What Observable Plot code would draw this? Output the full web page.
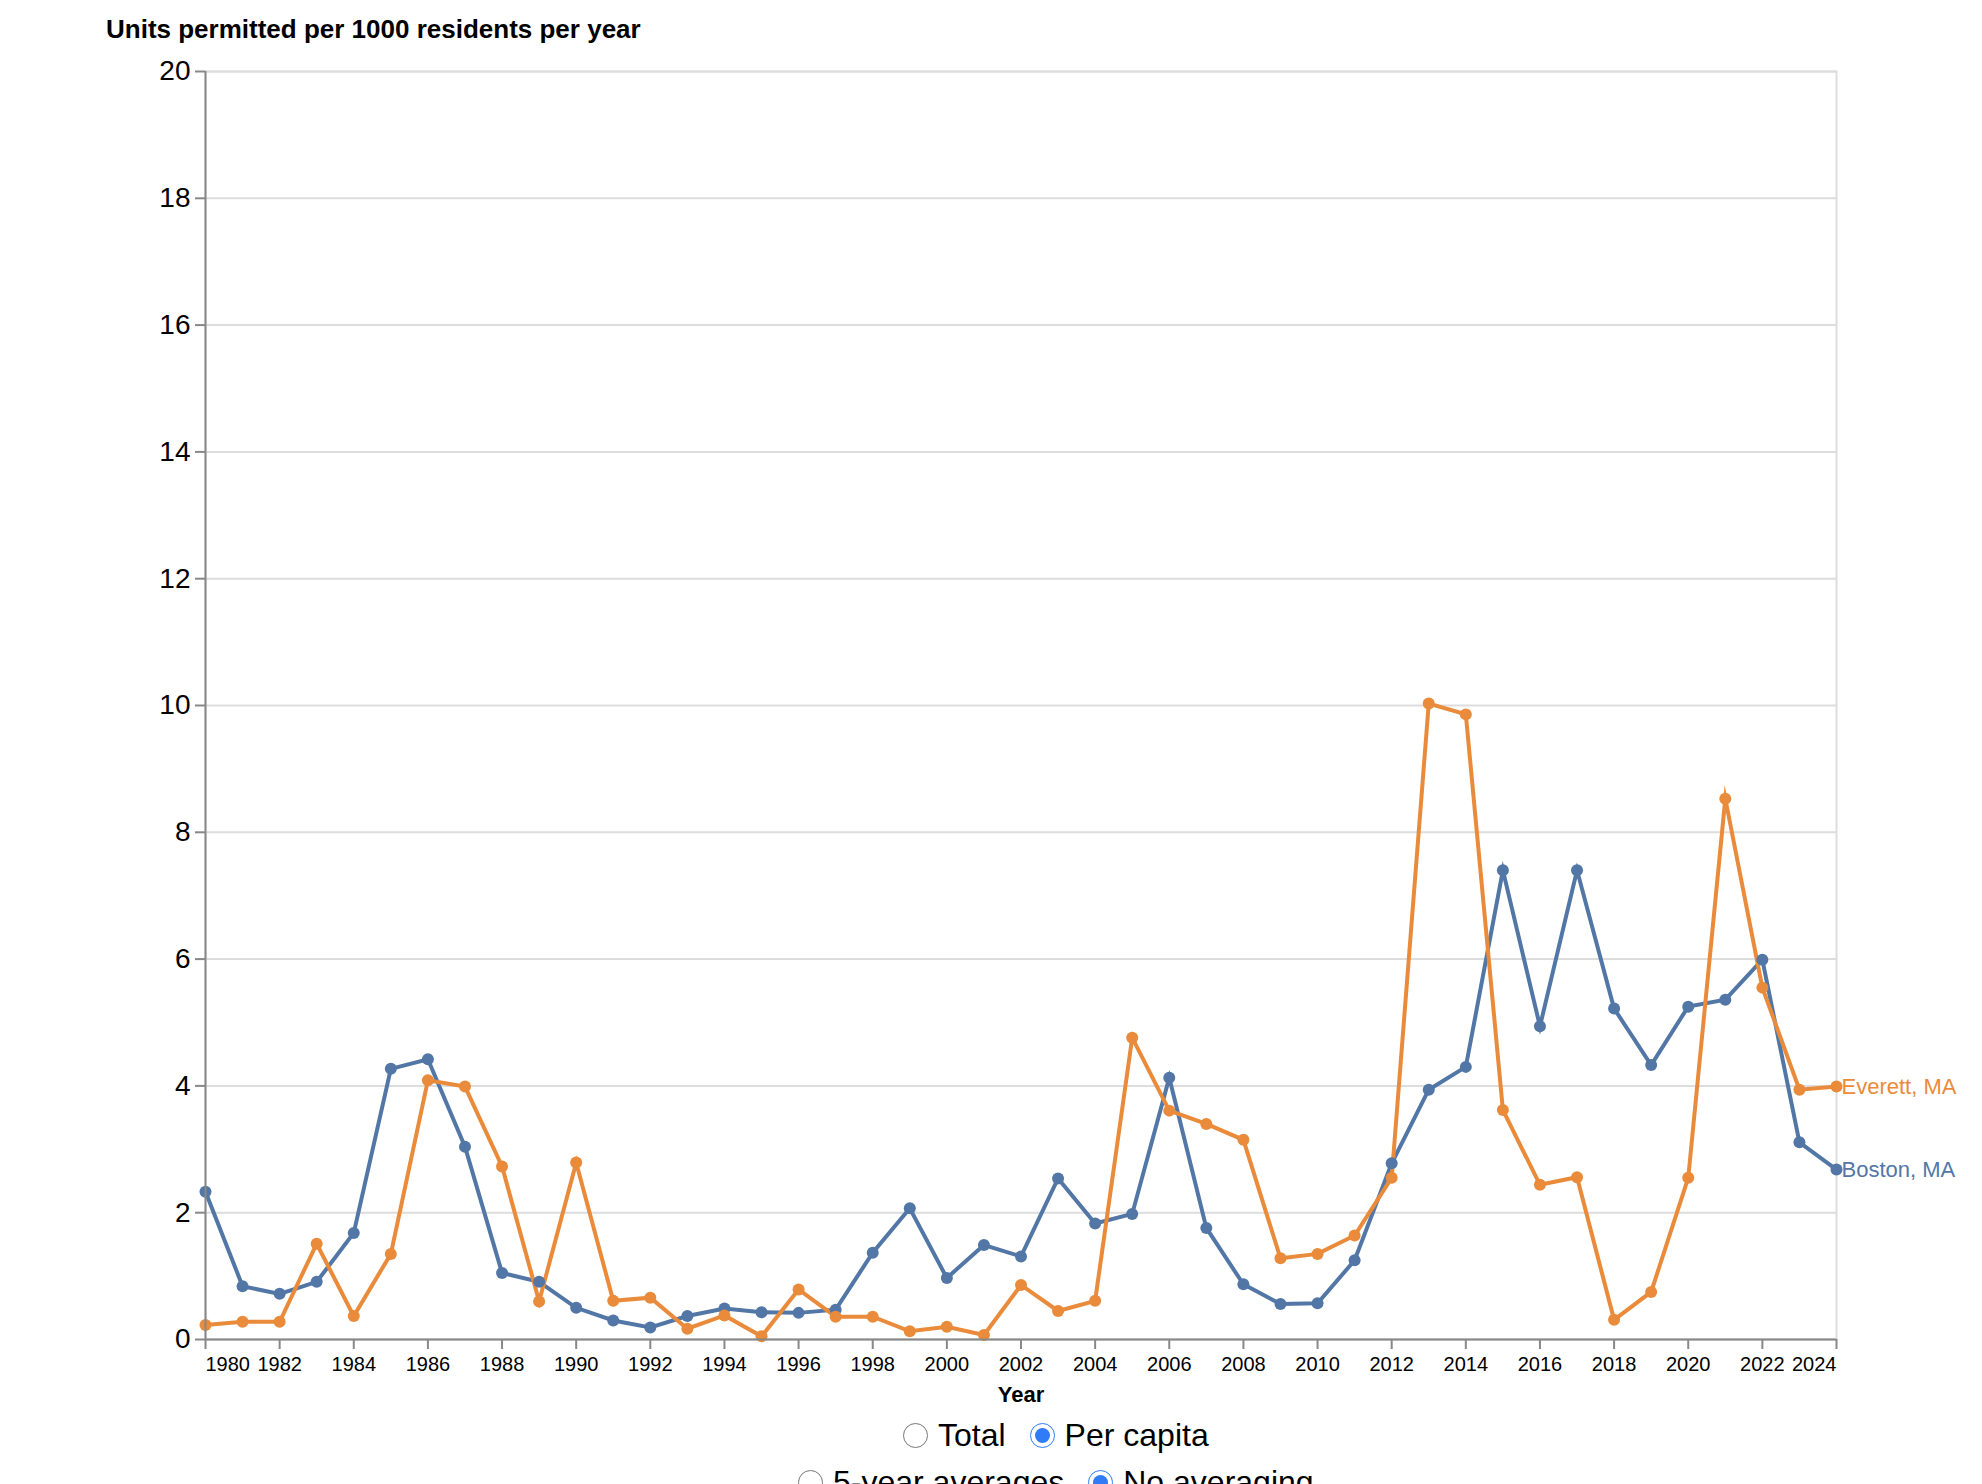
<!DOCTYPE html>
<html><head><meta charset="utf-8">
<script src="https://cdn.jsdelivr.net/npm/d3@7"></script>
<script src="https://cdn.jsdelivr.net/npm/@observablehq/plot@0.6"></script>
<style>
html,body{margin:0;padding:0;background:#fff;}
body{width:1982px;height:1484px;position:relative;overflow:hidden;font-family:"Liberation Sans",Arial,sans-serif;color:#000;}
#title{position:absolute;left:106px;top:16px;font-size:26px;font-weight:bold;line-height:26px;white-space:nowrap;}
#chart{position:absolute;left:0;top:50px;}
.row{position:absolute;height:40px;display:flex;align-items:center;font-size:32px;white-space:nowrap;}
.row label{display:flex;align-items:center;margin-right:24px;}
.row input{width:25px;height:25px;margin:0 10px 0 0;accent-color:#2f7cf6;}
</style></head>
<body>
<div id="title">Units permitted per 1000 residents per year</div>
<div id="chart"></div>
<div class="row" style="left:903px;top:1415px"><label><input type="radio" name="mode">Total</label><label><input type="radio" name="mode" checked>Per capita</label></div>
<div class="row" style="left:798px;top:1462px"><label><input type="radio" name="avg">5-year averages</label><label><input type="radio" name="avg" checked>No averaging</label></div>
<script>
const years = [1980,1981,1982,1983,1984,1985,1986,1987,1988,1989,
  1990,1991,1992,1993,1994,1995,1996,1997,1998,1999,
  2000,2001,2002,2003,2004,2005,2006,2007,2008,2009,
  2010,2011,2012,2013,2014,2015,2016,2017,2018,2019,
  2020,2021,2022,2023,2024];
const cities = ["Boston, MA", "Everett, MA"];
const bostonValues = [2.33,0.84,0.72,0.91,1.68,4.27,4.42,3.04,1.05,0.91,
  0.50,0.30,0.19,0.37,0.49,0.43,0.42,0.47,1.37,2.07,
  0.97,1.49,1.31,2.54,1.83,1.98,4.13,1.76,0.87,0.56,
  0.57,1.25,2.78,3.94,4.30,7.40,4.94,7.40,5.22,4.33,
  5.25,5.36,5.99,3.11,2.68];
const everettValues = [0.23,0.28,0.28,1.51,0.37,1.35,4.09,3.99,2.73,0.60,
  2.79,0.61,0.66,0.17,0.38,0.05,0.79,0.36,0.36,0.13,
  0.20,0.07,0.86,0.45,0.61,4.76,3.61,3.40,3.15,1.28,
  1.35,1.64,2.55,10.03,9.86,3.62,2.44,2.56,0.31,0.75,
  2.55,8.53,5.55,3.94,3.99];
const xTicks = [1980,1982,1984,1986,1988,1990,1992,1994,1996,1998,2000,2002,2004,2006,2008,2010,2012,2014,2016,2018,2020,2022,2024];
const yTicks = [0,2,4,6,8,10,12,14,16,18,20];
const colors = ["#5277a6", "#e98b3a"];

const rows = [];
years.forEach((yr, i) => rows.push({year: yr, city: cities[0], value: bostonValues[i]}));
years.forEach((yr, i) => rows.push({year: yr, city: cities[1], value: everettValues[i]}));

const fmt = d => String(d);
const xAxisOpts = {tickSize: 10, tickPadding: 7, fontSize: 20, stroke: "#888", strokeWidth: 2, fill: "black", tickFormat: fmt, label: null};

const chart = Plot.plot({
  width: 1982, height: 1360,
  marginTop: 21, marginBottom: 71, marginLeft: 205, marginRight: 146,
  style: {fontFamily: "Liberation Sans, Arial, sans-serif", fontSize: "20px", background: "white", color: "black"},
  x: {domain: [xTicks[0], xTicks[xTicks.length - 1]], label: null},
  y: {domain: [yTicks[0], yTicks[yTicks.length - 1]], label: null},
  color: {domain: cities, range: colors},
  marks: [
    Plot.gridY(yTicks, {stroke: "#ddd", strokeOpacity: 1, strokeWidth: 2}),
    Plot.frame({stroke: "#ddd", strokeWidth: 2}),
    Plot.line(rows, {x: "year", y: "value", z: "city", stroke: "city", strokeWidth: 4, strokeLinejoin: "miter", strokeMiterlimit: 10}),
    Plot.dot(rows, {x: "year", y: "value", fill: "city", r: 6}),
    Plot.ruleY([yTicks[0]], {stroke: "#888", strokeWidth: 2}),
    Plot.ruleX([xTicks[0]], {stroke: "#888", strokeWidth: 2}),
    Plot.axisY(yTicks, {tickSize: 10, tickPadding: 5, fontSize: 28, stroke: "#888", strokeWidth: 2, fill: "black", tickFormat: fmt, label: null}),
    Plot.axisX(xTicks.slice(1, -1), xAxisOpts),
    Plot.axisX([xTicks[0]], {...xAxisOpts, textAnchor: "start"}),
    Plot.axisX([xTicks[xTicks.length - 1]], {...xAxisOpts, textAnchor: "end"}),
    Plot.text(["Year"], {frameAnchor: "bottom", dy: 47, lineAnchor: "top", fontWeight: "bold", fontSize: 22, text: d => d, fill: "black"}),
    Plot.text(rows, Plot.selectLast({x: "year", y: "value", z: "city", text: "city", fill: "city", dx: 5, textAnchor: "start", fontSize: 22}))
  ]
});
document.getElementById("chart").appendChild(chart);
</script>
</body></html>
